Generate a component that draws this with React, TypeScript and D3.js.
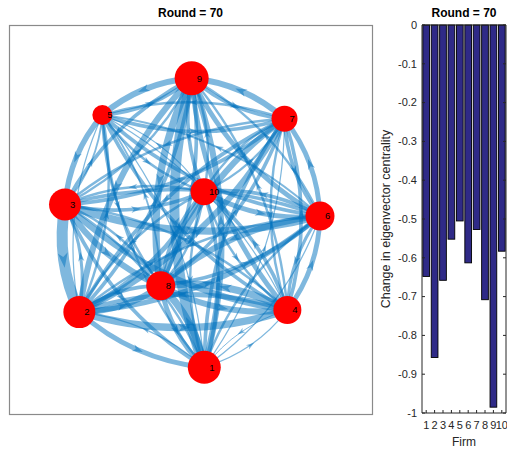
import React from 'react';
import * as d3 from 'd3';

// ---------- Data ----------
const roundLabel = 'Round = 70';
const nodeIds = [1, 2, 3, 4, 5, 6, 7, 8, 9, 10];
// layout coordinates of the graph nodes
const nodeX = [0.106, -0.855, -0.965, 0.745, -0.678, 0.996, 0.723, -0.229, 0.009, 0.104];
const nodeY = [-1.137, -0.712, 0.115, -0.696, 0.804, 0.027, 0.775, -0.509, 1.086, 0.214];
const nodeSize = [33, 32, 32, 28, 20, 29, 26, 29, 34, 27];

// [source, target, weight]
const edges: [number, number, number][] = [
  [9, 5, 5], [5, 3, 4.5], [3, 2, 9], [2, 1, 4], [1, 4, 1], [4, 6, 4], [6, 7, 4], [7, 9, 5],
  [5, 9, 3], [3, 5, 1.5], [2, 3, 2.5], [1, 2, 1], [4, 1, 0.8], [6, 4, 2.5], [7, 6, 3], [9, 7, 3],
  [9, 1, 8], [9, 2, 5], [9, 3, 3], [9, 4, 4], [9, 6, 4], [9, 8, 6], [9, 10, 3],
  [1, 9, 5], [2, 9, 3], [3, 9, 2], [4, 9, 2], [6, 9, 2], [8, 9, 3], [10, 9, 2],
  [5, 7, 3], [7, 5, 2], [5, 6, 3], [6, 5, 1.5], [5, 4, 3], [4, 5, 1], [5, 1, 2], [1, 5, 1],
  [5, 2, 1], [2, 5, 2], [5, 8, 2], [8, 5, 1.5], [5, 10, 2], [10, 5, 1],
  [3, 6, 6], [6, 3, 3], [3, 4, 5], [4, 3, 2], [3, 1, 3], [1, 3, 2], [3, 7, 3], [7, 3, 2],
  [3, 8, 5], [8, 3, 2], [3, 10, 3], [10, 3, 2],
  [2, 4, 6], [4, 2, 4], [2, 6, 4], [6, 2, 2], [2, 7, 5], [7, 2, 3], [2, 8, 5], [8, 2, 3],
  [2, 10, 4], [10, 2, 2],
  [1, 6, 1], [6, 1, 2], [1, 7, 1], [7, 1, 3], [1, 8, 6], [8, 1, 4], [1, 10, 3], [10, 1, 2],
  [4, 7, 3], [7, 4, 2], [4, 8, 6], [8, 4, 5], [4, 10, 3], [10, 4, 2],
  [6, 8, 5], [8, 6, 3], [6, 10, 3], [10, 6, 4],
  [7, 8, 5], [8, 7, 3], [7, 10, 2], [10, 7, 2],
  [8, 10, 2], [10, 8, 3],
];

const firms = [1, 2, 3, 4, 5, 6, 7, 8, 9, 10];
const centralityChange = [-0.648, -0.857, -0.658, -0.552, -0.505, -0.613, -0.527, -0.708, -0.985, -0.583];
const yTicks = [0, -0.1, -0.2, -0.3, -0.4, -0.5, -0.6, -0.7, -0.8, -0.9, -1];
const yLabel = 'Change in eigenvector centrality';
const xLabel = 'Firm';

// ---------- Layout ----------
const W = 507;
const H = 449;
const FONT = '"Liberation Sans", Arial, Helvetica, sans-serif';
const EDGE_COLOR = '#0072BD';

const gBox = { left: 9, right: 372, top: 25, bottom: 414 };
const bBox = { left: 422, right: 506, top: 25, bottom: 413 };

export default function App() {
  const sx = d3.scaleLinear().domain([-1.396, 1.396]).range([gBox.left, gBox.right]);
  const sy = d3.scaleLinear().domain([-1.496, 1.496]).range([gBox.bottom, gBox.top]);
  const sw = d3.scaleLinear().domain([0, 9]).range([0, 11]);

  const pos = (id: number) => {
    const i = nodeIds.indexOf(id);
    return [sx(nodeX[i]), sy(nodeY[i])];
  };

  const bend = 0.16;
  const edgeEls = edges.map(([s, t, w], k) => {
    const [x0, y0] = pos(s);
    const [x1, y1] = pos(t);
    const dx = x1 - x0;
    const dy = y1 - y0;
    const cx = (x0 + x1) / 2 - dy * bend;
    const cy = (y0 + y1) / 2 + dx * bend;
    const p = d3.path();
    p.moveTo(x0, y0);
    p.quadraticCurveTo(cx, cy, x1, y1);
    const mx = 0.25 * x0 + 0.5 * cx + 0.25 * x1;
    const my = 0.25 * y0 + 0.5 * cy + 0.25 * y1;
    const ang = (Math.atan2(dy, dx) * 180) / Math.PI;
    const lw = sw(w);
    const a = 4 + lw * 0.4;
    const arrow = `M${a},0L${-a * 0.8},${a * 0.6}L${-a * 0.3},0L${-a * 0.8},${-a * 0.6}Z`;
    return (
      <g key={k}>
        <path d={p.toString()} fill="none" stroke={EDGE_COLOR} strokeOpacity={0.5} strokeWidth={lw} />
        <path d={arrow} transform={`translate(${mx},${my}) rotate(${ang})`} fill={EDGE_COLOR} fillOpacity={0.5} />
      </g>
    );
  });

  const bx = d3.scaleLinear().domain([0.5, 10.5]).range([bBox.left, bBox.right]);
  const by = d3.scaleLinear().domain([-1, 0]).range([bBox.bottom, bBox.top]);
  const barW = (bx(1) - bx(0)) * 0.8;
  const axisColor = '#262626';
  const fmt = (t: number) => (t === 0 ? '0' : t === -1 ? '-1' : '-' + d3.format('.1f')(-t));

  return (
    <svg width={W} height={H} style={{ position: 'absolute', left: 0, top: 0, background: '#fff' }} fontFamily={FONT}>
      <rect x={0} y={0} width={W} height={H} fill="#fff" />
      <text x={(gBox.left + gBox.right) / 2} y={17} textAnchor="middle" fontSize={12} fontWeight="bold" fill="#000">
        {roundLabel}
      </text>
      <rect x={gBox.left + 0.5} y={gBox.top + 0.5} width={gBox.right - gBox.left} height={gBox.bottom - gBox.top} fill="none" stroke="#8a8a8a" strokeWidth={1.2} />
      <g>{edgeEls}</g>
      <g>
        {nodeIds.map((id, i) => (
          <circle key={id} cx={sx(nodeX[i])} cy={sy(nodeY[i])} r={nodeSize[i] / 2} fill="#ff0000" />
        ))}
      </g>
      <g>
        {nodeIds.map((id, i) => (
          <text key={id} x={sx(nodeX[i]) + 5} y={sy(nodeY[i])} dy="0.35em" fontSize={9.5} fill="#000">
            {id}
          </text>
        ))}
      </g>

      <text x={(bBox.left + bBox.right) / 2} y={17} textAnchor="middle" fontSize={12} fontWeight="bold" fill="#000">
        {roundLabel}
      </text>
      {firms.map((f, i) => (
        <rect
          key={f}
          x={bx(f) - barW / 2}
          y={by(0)}
          width={barW}
          height={by(centralityChange[i]) - by(0)}
          fill="#2f2a87"
          stroke="#000"
          strokeWidth={0.9}
        />
      ))}
      <line x1={bBox.left} x2={bBox.left} y1={bBox.top} y2={bBox.bottom} stroke={axisColor} strokeWidth={1} />
      <line x1={bBox.right} x2={bBox.right} y1={bBox.top} y2={bBox.bottom} stroke={axisColor} strokeWidth={1} />
      <line x1={bBox.left} x2={bBox.right} y1={bBox.bottom} y2={bBox.bottom} stroke={axisColor} strokeWidth={1} />
      <line x1={bBox.left} x2={bBox.right} y1={bBox.top} y2={bBox.top} stroke={axisColor} strokeWidth={1} />
      {yTicks.map((t) => (
        <g key={t}>
          <line x1={bBox.left} x2={bBox.left + 3} y1={by(t)} y2={by(t)} stroke={axisColor} />
          <line x1={bBox.right} x2={bBox.right - 3} y1={by(t)} y2={by(t)} stroke={axisColor} />
          <text x={bBox.left - 5} y={by(t)} dy="0.35em" textAnchor="end" fontSize={11} fill={axisColor}>
            {fmt(t)}
          </text>
        </g>
      ))}
      {firms.map((f) => (
        <g key={f}>
          <line x1={bx(f)} x2={bx(f)} y1={bBox.bottom} y2={bBox.bottom - 3} stroke={axisColor} />
          <text x={bx(f)} y={bBox.bottom + 16} textAnchor="middle" fontSize={11} fill={axisColor}>
            {f}
          </text>
        </g>
      ))}
      <text x={(bBox.left + bBox.right) / 2} y={446} textAnchor="middle" fontSize={12} fill={axisColor}>
        {xLabel}
      </text>
      <text
        transform={`translate(390,${(bBox.top + bBox.bottom) / 2}) rotate(-90)`}
        textAnchor="middle"
        fontSize={12.5}
        fill={axisColor}
      >
        {yLabel}
      </text>
    </svg>
  );
}
